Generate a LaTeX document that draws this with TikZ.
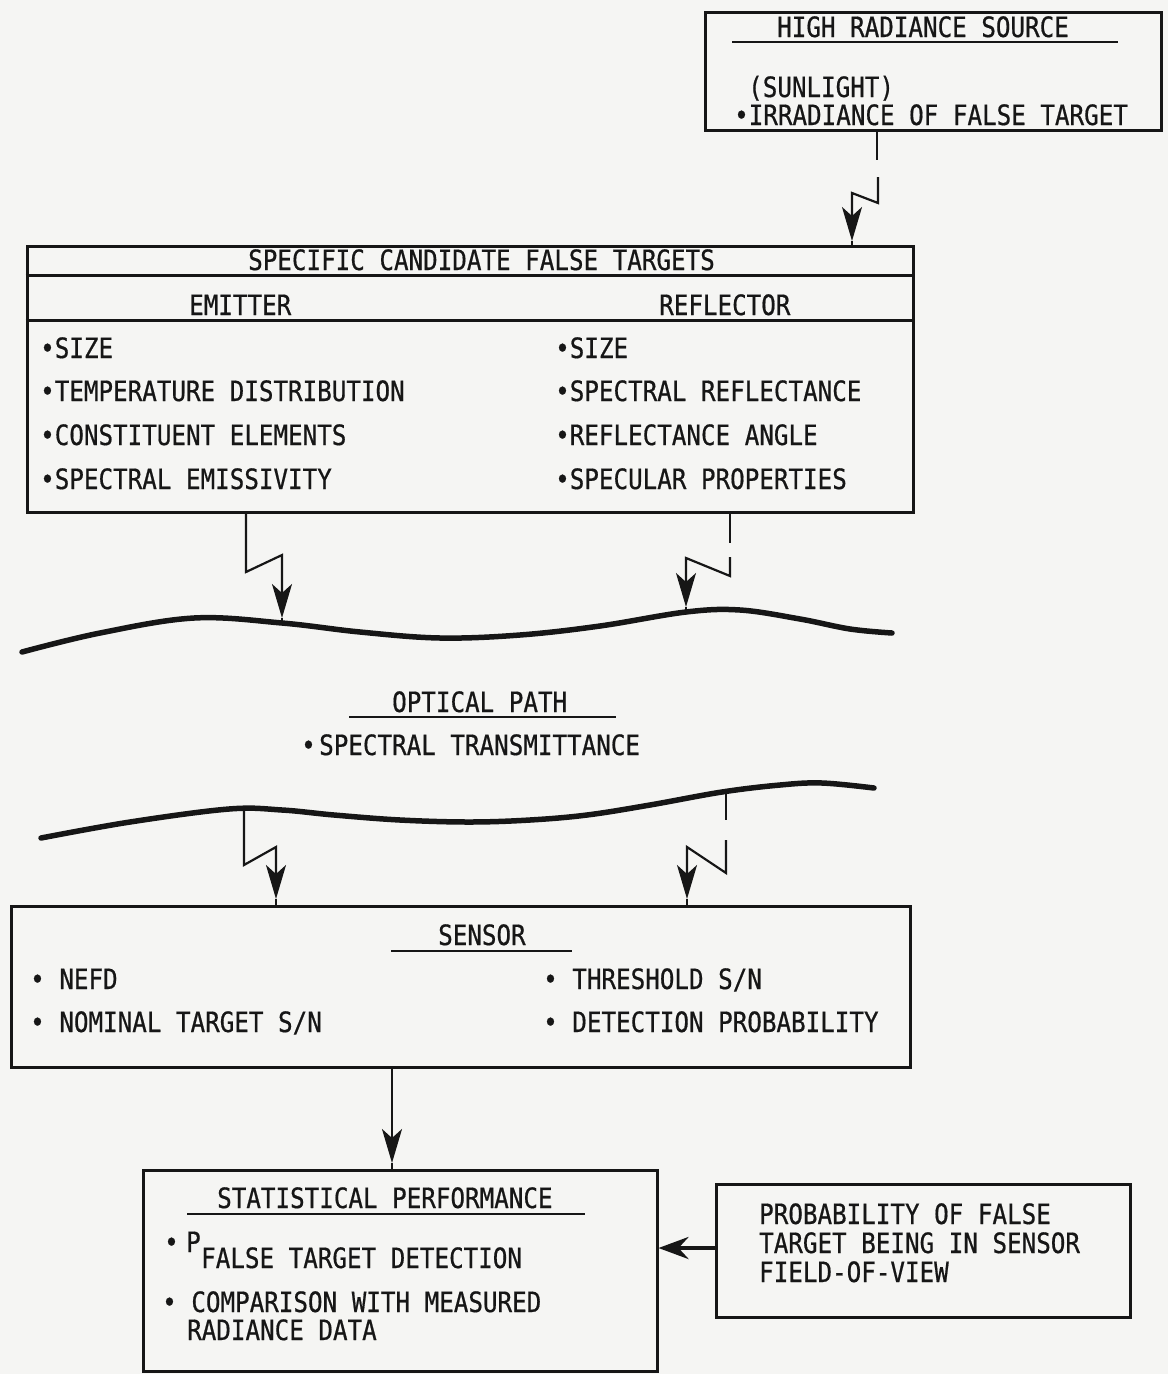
\documentclass[tikz,border=0pt]{standalone}
\usepackage{fontspec}
\newfontfamily\diagfont[FakeStretch=0.865, FakeBold=0.6]{DejaVu Sans Mono}
\usetikzlibrary{arrows.meta}
\definecolor{paper}{RGB}{245,245,243}
\definecolor{ink}{RGB}{22,22,22}
\begin{document}
\begin{tikzpicture}[x=1pt, y=-1pt,
  box/.style={draw=ink, line width=3pt, inner sep=0pt},
  txt/.style={anchor=base west, inner sep=0pt, text=ink, font=\diagfont\fontsize{28}{32}\selectfont},
  uline/.style={draw=ink, line width=2.6pt},
  divline/.style={draw=ink, line width=3pt},
  conn/.style={draw=ink, line width=2.2pt},
  arr/.style={conn, -{Stealth[length=34pt, width=20pt, inset=9pt]}},
  wave/.style={draw=ink, line width=5.5pt, line cap=round}]
\useasboundingbox (0,0) rectangle (1168,1374);
\fill[paper] (0,0) rectangle (1168,1374);

% ---------- boxes ----------
\node[box, minimum width=456pt, minimum height=118pt] (src) at (933,71) {};
\node[box, minimum width=886pt, minimum height=266pt] (cand) at (470,379) {};
\node[box, minimum width=899pt, minimum height=161pt] (sensor) at (460.5,986.5) {};
\node[box, minimum width=514pt, minimum height=201pt] (stat) at (400,1270.5) {};
\node[box, minimum width=414pt, minimum height=133pt] (prob) at (923,1250.5) {};

% ---------- high radiance source ----------
\node[txt] (tsrc) at (777,37) {HIGH RADIANCE SOURCE};
\draw[uline] (732,42) -- (1118,42);
\node[txt] (tsun) at (748,97) {(SUNLIGHT)};
\node[txt] (tirr) at (734,125) {•IRRADIANCE OF FALSE TARGET};

% ---------- candidate false targets ----------
\draw[divline] (cand.west |- 0,275) -- (cand.east |- 0,275);
\draw[divline] (cand.west |- 0,320) -- (cand.east |- 0,320);
\node[txt] (tcand) at (248,270) {SPECIFIC CANDIDATE FALSE TARGETS};
\node[txt] (temit) at (189,315) {EMITTER};
\node[txt] (trefl) at (659,315) {REFLECTOR};
\node[txt] (e1) at (40,358) {•SIZE};
\node[txt] (e2) at (40,401) {•TEMPERATURE DISTRIBUTION};
\node[txt] (e3) at (40,445) {•CONSTITUENT ELEMENTS};
\node[txt] (e4) at (40,489) {•SPECTRAL EMISSIVITY};
\node[txt] (r1) at (555,358) {•SIZE};
\node[txt] (r2) at (555,401) {•SPECTRAL REFLECTANCE};
\node[txt] (r3) at (555,445) {•REFLECTANCE ANGLE};
\node[txt] (r4) at (555,489) {•SPECULAR PROPERTIES};

% ---------- optical path ----------
\draw[wave] plot[smooth, tension=0.6] coordinates {(22,652) (100,633) (194,618) (282,623) (360,632) (440,638) (520,635) (600,626) (686,612) (740,610) (800,619) (850,629) (892,633)};
\draw[wave] plot[smooth, tension=0.6] coordinates {(41,838) (130,822) (229,809) (282,810) (334,815) (400,820) (469,822) (530,820) (587,815) (650,805) (722,792) (780,785) (822,783) (874,788)};
\node[txt] (topt) at (392,712) {OPTICAL PATH};
\draw[uline] (349,717) -- (616,717);
\node[txt] (tbop) at (301,755) {•};
\node[txt] (ttrans) at (319,755) {SPECTRAL TRANSMITTANCE};

% ---------- sensor ----------
\node[txt] (tsen) at (438,945) {SENSOR};
\draw[uline] (391,951) -- (572,951);
\node[txt] (s1) at (30,989) {• NEFD};
\node[txt] (s2) at (30,1032) {• NOMINAL TARGET S/N};
\node[txt] (s3) at (543,989) {• THRESHOLD S/N};
\node[txt] (s4) at (543,1032) {• DETECTION PROBABILITY};

% ---------- statistical performance ----------
\node[txt] (tstat) at (217,1208) {STATISTICAL PERFORMANCE};
\draw[uline] (187,1214) -- (585,1214);
\node[txt] (tb1) at (164,1252) {•};
\node[txt] (tp) at (186,1252) {P};
\node[txt] (tpsub) at (201,1268) {FALSE TARGET DETECTION};
\node[txt] (tcomp) at (162,1312) {• COMPARISON WITH MEASURED};
\node[txt] (trad) at (187,1340) {RADIANCE DATA};

% ---------- probability box ----------
\node[txt] (tpr1) at (759,1224) {PROBABILITY OF FALSE};
\node[txt] (tpr2) at (759,1253) {TARGET BEING IN SENSOR};
\node[txt] (tpr3) at (759,1282) {FIELD-OF-VIEW};

% ---------- connector coordinates ----------
\coordinate (l0a) at (877,160);
\coordinate (l0b) at (878,177);
\coordinate (l0c) at (878,203);
\coordinate (l0d) at (852,193);
\coordinate (l0t) at (852,241);

\coordinate (l1a) at (246,572);
\coordinate (l1b) at (282,555);
\coordinate (l1t) at (282,618);
\coordinate (w1a) at (282,623);

\coordinate (l2a) at (730,543);
\coordinate (l2b) at (730,557);
\coordinate (l2c) at (730,576);
\coordinate (l2d) at (686,558);
\coordinate (l2t) at (686,607);
\coordinate (w1b) at (686,612);

\coordinate (w2a) at (244,809);
\coordinate (l3a) at (244,865);
\coordinate (l3b) at (276,847);
\coordinate (l3t) at (276,899);

\coordinate (w2b) at (726,792);
\coordinate (l4a) at (726,820);
\coordinate (l4b) at (726,840);
\coordinate (l4c) at (726,873);
\coordinate (l4d) at (687,847);
\coordinate (l4t) at (687,899);

\coordinate (s1t) at (392,1163);
\coordinate (pa) at (0,1248);

% ---------- connectors ----------
% source -> candidates
\draw[conn] (src.south -| l0a) -- (l0a);
\draw[arr] (l0b) -- (l0c) -- (l0d) -- (l0t);
\draw[conn] (l0t) -- (cand.north -| l0t);
% emitter -> optical path
\draw[arr] (cand.south -| l1a) -- (l1a) -- (l1b) -- (l1t);
\draw[conn] (l1t) -- (w1a);
% reflector -> optical path
\draw[conn] (cand.south -| l2a) -- (l2a);
\draw[arr] (l2b) -- (l2c) -- (l2d) -- (l2t);
\draw[conn] (l2t) -- (w1b);
% optical path -> sensor (left)
\draw[arr] (w2a) -- (l3a) -- (l3b) -- (l3t);
\draw[conn] (l3t) -- (sensor.north -| l3t);
% optical path -> sensor (right)
\draw[conn] (w2b) -- (l4a);
\draw[arr] (l4b) -- (l4c) -- (l4d) -- (l4t);
\draw[conn] (l4t) -- (sensor.north -| l4t);
% sensor -> statistical performance
\draw[arr] (sensor.south -| s1t) -- (s1t);
\draw[conn] (s1t) -- (stat.north -| s1t);
% probability -> statistical performance
\draw[draw=ink, line width=4.5pt, -{Stealth[length=30pt, width=22pt, inset=10pt]}] (prob.west |- pa) -- (stat.east |- pa);
\end{tikzpicture}
\end{document}
